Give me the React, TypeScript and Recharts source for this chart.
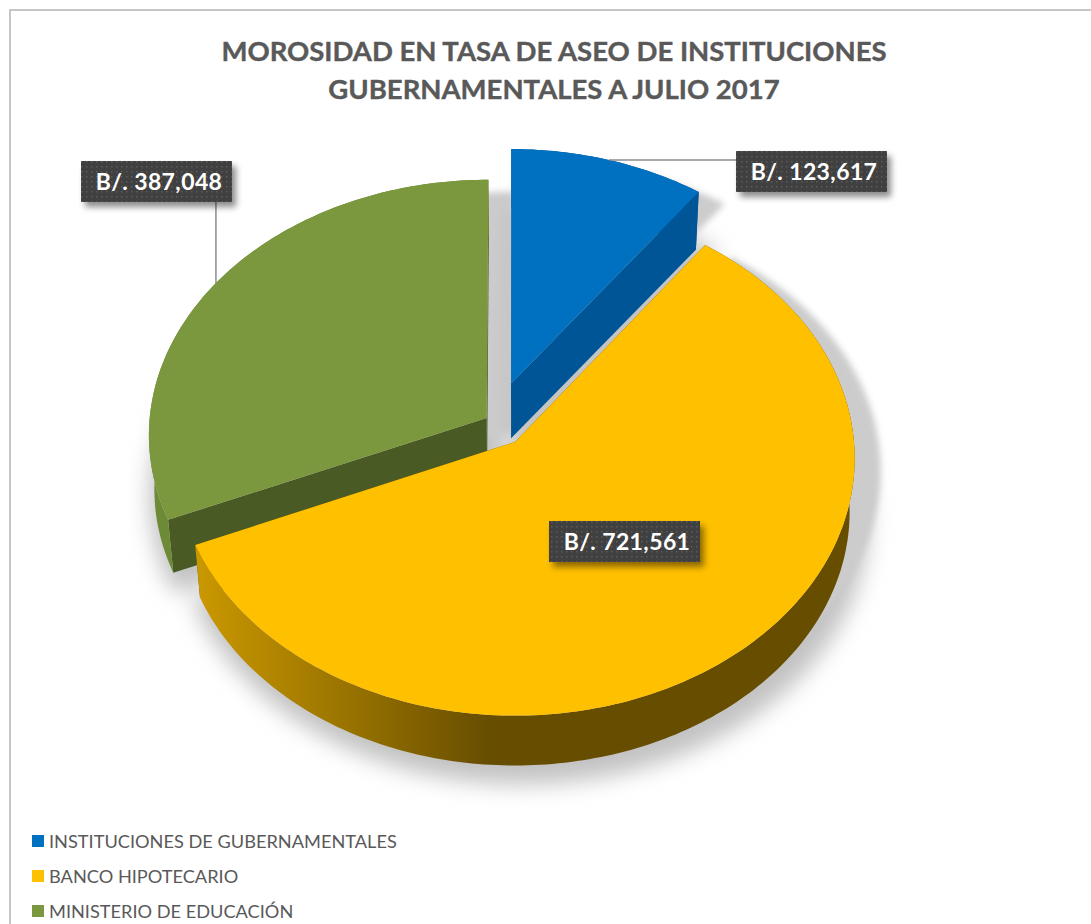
import React from 'react';
import { PieChart, Pie, Legend } from 'recharts';

const titleLines = ['MOROSIDAD EN TASA DE ASEO DE INSTITUCIONES', 'GUBERNAMENTALES A JULIO 2017'];
const categories = ['INSTITUCIONES DE GUBERNAMENTALES', 'BANCO HIPOTECARIO', 'MINISTERIO DE EDUCACIÓN'];
const values = [123617, 721561, 387048];
// yellow has to be painted last, it covers the green wall
const drawOrder = [2, 0, 1];

const faceColors = ['#0070c0', '#ffc000', '#7c983f'];
const cutColors = ['#005596', '#664d00', '#4a5a24'];
const rimColors = ['#005596', 'url(#yellowWall)', '#6d8a37'];
// explosion of each slice on the tilted disc, in radius units
const explode = [[-0.012, 0.232], [0, 0], [-0.084, 0.094]];
const labelBoxes = [{ x: 736, y: 151 }, { x: 549, y: 521 }, { x: 81, y: 161 }];

const W = 1091;
const H = 924;
const TILT = 0.756;
const PERSP = 0.0633;
const DEPTH = 54;
const DEPTH_SCALE = 0.985;
const BOX_W = 151;
const BOX_H = 41;

const total = values.reduce((a, b) => a + b, 0);
const startAngle = 90 + (values[2] / total) * 360;

const table = drawOrder.map((i) => ({ name: categories[i], value: values[i], fill: faceColors[i], idx: i }));

type Pt = [number, number];

const project = (p: any, idx: number, deg: number, r: number): Pt => {
  const a = (deg * Math.PI) / 180;
  const u = r * Math.cos(a) + explode[idx][0];
  const v = r * Math.sin(a) + explode[idx][1];
  const d = 1 + PERSP * v;
  return [p.cx + (p.outerRadius * u) / d, p.cy - (p.outerRadius * TILT * v) / d];
};

const lower = (p: any, q: Pt): Pt => [
  p.cx + (q[0] - p.cx) * DEPTH_SCALE,
  p.cy + DEPTH + (q[1] - p.cy) * DEPTH_SCALE,
];

const toPath = (pts: Pt[]) => 'M' + pts.map((q) => `${q[0].toFixed(1)},${q[1].toFixed(1)}`).join('L') + 'Z';

const rimPoints = (p: any, idx: number): Pt[] => {
  const pts: Pt[] = [];
  const steps = Math.ceil(Math.abs(p.endAngle - p.startAngle));
  for (let s = 0; s <= steps; s++) {
    pts.push(project(p, idx, p.startAngle + ((p.endAngle - p.startAngle) * s) / steps, 1));
  }
  return pts;
};

const SliceShape = (props: any) => {
  const idx = props.payload?.idx ?? props.idx;
  const rim = rimPoints(props, idx);
  const apex = project(props, idx, 0, 0);
  const first = rim[0];
  const last = rim[rim.length - 1];
  const wall = rim.concat(rim.map((q) => lower(props, q)).reverse());
  const cut = (q: Pt) => [apex, q, lower(props, q), lower(props, apex)] as Pt[];
  return (
    <g>
      <path d={toPath(cut(first))} fill={cutColors[idx]} />
      <path d={toPath(cut(last))} fill={cutColors[idx]} />
      <path d={toPath(wall)} fill={rimColors[idx]} />
      <path d={toPath([apex, ...rim])} fill={faceColors[idx]} />
    </g>
  );
};

const ShadowShape = (props: any) => {
  const idx = props.payload?.idx ?? props.idx;
  const rim = rimPoints(props, idx);
  const apex = project(props, idx, 0, 0);
  const face = toPath([apex, ...rim]);
  const low = toPath([apex, ...rim].map((q) => lower(props, q)));
  return (
    <g>
      <path d={low} fill="#c2c2c2" stroke="#c2c2c2" strokeWidth={24} strokeLinejoin="round" transform="translate(7,7)" filter="url(#pieShadow)" />
      <path d={face} fill="#cccccc" transform="translate(26,12)" filter="url(#gapShadow)" />
    </g>
  );
};

const renderLabel = (props: any) => {
  const idx = props.payload?.idx ?? props.idx;
  const box = labelBoxes[idx];
  const rimPt = project(props, idx, props.midAngle, 1);
  const text = `B/. ${Number(props.value).toLocaleString('en-US')}`;
  let line = null;
  if (idx === 0) {
    line = <line x1={rimPt[0]} y1={box.y + 9} x2={box.x} y2={box.y + 9} stroke="#8c8c8c" strokeWidth={1.5} />;
  } else if (idx === 2) {
    line = <line x1={rimPt[0]} y1={rimPt[1]} x2={rimPt[0]} y2={box.y + BOX_H} stroke="#8c8c8c" strokeWidth={1.5} />;
  }
  return (
    <g key={props.name}>
      {line}
      <rect x={box.x} y={box.y} width={BOX_W} height={BOX_H} fill="url(#labelDots)" filter="url(#labelShadow)" />
      <text
        x={box.x + BOX_W / 2 + 2.5}
        y={box.y + 29}
        textAnchor="middle"
        fill="#ffffff"
        fontFamily="Lato, sans-serif"
        fontWeight={700}
        fontSize={23}
        letterSpacing={0.4}
      >
        {text}
      </text>
    </g>
  );
};

const renderLegend = () => (
  <div>
    {categories.map((c, i) => (
      <div key={c} style={{ display: 'flex', alignItems: 'center', height: 35 }}>
        <span style={{ width: 12, height: 12, background: faceColors[i], marginRight: 5 }} />
        <span style={{ color: '#595959', fontSize: 18.2, fontFamily: 'Lato, sans-serif' }}>{c}</span>
      </div>
    ))}
  </div>
);

export default function App() {
  return (
    <div style={{ position: 'absolute', left: 0, top: 0, width: W, height: H, overflow: 'hidden', background: '#fff' }}>
      <div
        style={{
          position: 'absolute',
          left: 9,
          top: 9,
          width: W,
          height: H,
          borderTop: '2px solid #c6c6c6',
          borderLeft: '2px solid #c6c6c6',
        }}
      />
      <div style={{ position: 'absolute', left: 0, top: 0 }}>
        <PieChart width={W} height={H} margin={{ top: 0, right: 0, bottom: 0, left: 0 }}>
          <defs>
            <filter id="pieShadow" x="-20%" y="-20%" width="140%" height="140%">
              <feGaussianBlur stdDeviation="11" />
            </filter>
            <filter id="gapShadow" x="-10%" y="-10%" width="120%" height="120%">
              <feGaussianBlur stdDeviation="3" />
            </filter>
            <filter id="labelShadow" x="-10%" y="-20%" width="125%" height="160%">
              <feDropShadow dx="4" dy="5" stdDeviation="3" floodColor="#000" floodOpacity="0.45" />
            </filter>
            <linearGradient id="yellowWall" gradientUnits="userSpaceOnUse" x1="200" y1="0" x2="490" y2="0">
              <stop offset="0" stopColor="#c99700" />
              <stop offset="0.5" stopColor="#9a7400" />
              <stop offset="1" stopColor="#664d00" />
            </linearGradient>
            <pattern id="labelDots" patternUnits="userSpaceOnUse" width="5" height="5">
              <rect width="5" height="5" fill="#404040" />
              <rect x="1" y="1" width="1.5" height="1.5" fill="#5c5c5c" />
            </pattern>
          </defs>
          {titleLines.map((t, i) => (
            <text
              key={t}
              x={554}
              y={61 + i * 38}
              textAnchor="middle"
              fill="#595959"
              stroke="#595959"
              strokeWidth={0.4}
              fontFamily="Lato, sans-serif"
              fontWeight={700}
              fontSize={27.5}
            >
              {t}
            </text>
          ))}
          <Pie
            data={table}
            dataKey="value"
            nameKey="name"
            cx={515}
            cy={442}
            innerRadius={0}
            outerRadius={339}
            startAngle={startAngle}
            endAngle={startAngle - 360}
            stroke="none"
            legendType="none"
            isAnimationActive={false}
            shape={ShadowShape}
            inactiveShape={ShadowShape}
          />
          <Pie
            data={table}
            dataKey="value"
            nameKey="name"
            cx={515}
            cy={442}
            innerRadius={0}
            outerRadius={339}
            startAngle={startAngle}
            endAngle={startAngle - 360}
            stroke="none"
            isAnimationActive={false}
            shape={SliceShape}
            inactiveShape={SliceShape}
            label={renderLabel}
            labelLine={false}
          />
          <Legend
            layout="horizontal"
            align="left"
            verticalAlign="bottom"
            content={renderLegend}
            wrapperStyle={{ left: 32, top: 823, bottom: 'auto', width: 500 }}
          />
        </PieChart>
      </div>
    </div>
  );
}
